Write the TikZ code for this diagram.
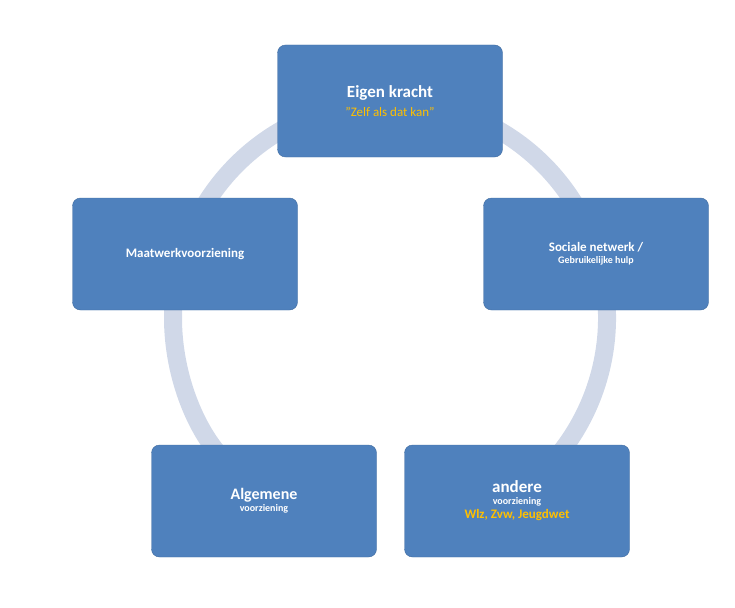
\documentclass[tikz,border=0pt]{standalone}
\usepackage{fontspec}
\setmainfont{Carlito}
\usetikzlibrary{arrows.meta}
\definecolor{boxBlue}{RGB}{79,129,189}
\definecolor{boxEdge}{RGB}{65,108,160}
\definecolor{ringGray}{RGB}{208,216,232}
\definecolor{noteYellow}{RGB}{255,192,0}
\begin{document}
\begin{tikzpicture}[x=1pt,y=-1pt,
  stepbox/.style={draw=boxEdge,fill=boxBlue,rounded corners=8pt,minimum width=225pt,
    minimum height=112pt,text=white,font=\bfseries,align=center,inner sep=4pt},
  ring/.style={ringGray,line width=18pt},
  note/.style={text=noteYellow}]

  \useasboundingbox (0,0) rectangle (735,607);
  \coordinate (cen) at (390,318);

  % the cycle
  \draw[ring,-{Triangle[width=40pt,length=22pt]}] (cen) ++(60:-217) ++(60:217) ++(60:217)
    arc[start angle=60,end angle=-227,radius=217];

  \node[stepbox] (eigen) at (390,101) {\fontsize{17}{20}\selectfont Eigen kracht\\[6pt]
    {\mdseries\fontsize{13}{15}\selectfont\color{noteYellow}"Zelf als dat kan"}};
  \node[stepbox] (sociaal) at (596,254) {\fontsize{13}{22}\selectfont Sociale netwerk /\\ Gebruikelijke hulp};
  \node[stepbox] (andere) at (517,501) {\fontsize{17}{22}\selectfont andere\\ voorziening\\[2pt]
    {\fontsize{13}{15}\selectfont\color{noteYellow}Wlz, Zvw, Jeugdwet}};
  \node[stepbox] (algemeen) at (264,501) {\fontsize{16}{22}\selectfont Algemene\\ voorziening};
  \node[stepbox] (maatwerk) at (185,254) {\fontsize{13}{16}\selectfont Maatwerkvoorziening};
\end{tikzpicture}
\end{document}
